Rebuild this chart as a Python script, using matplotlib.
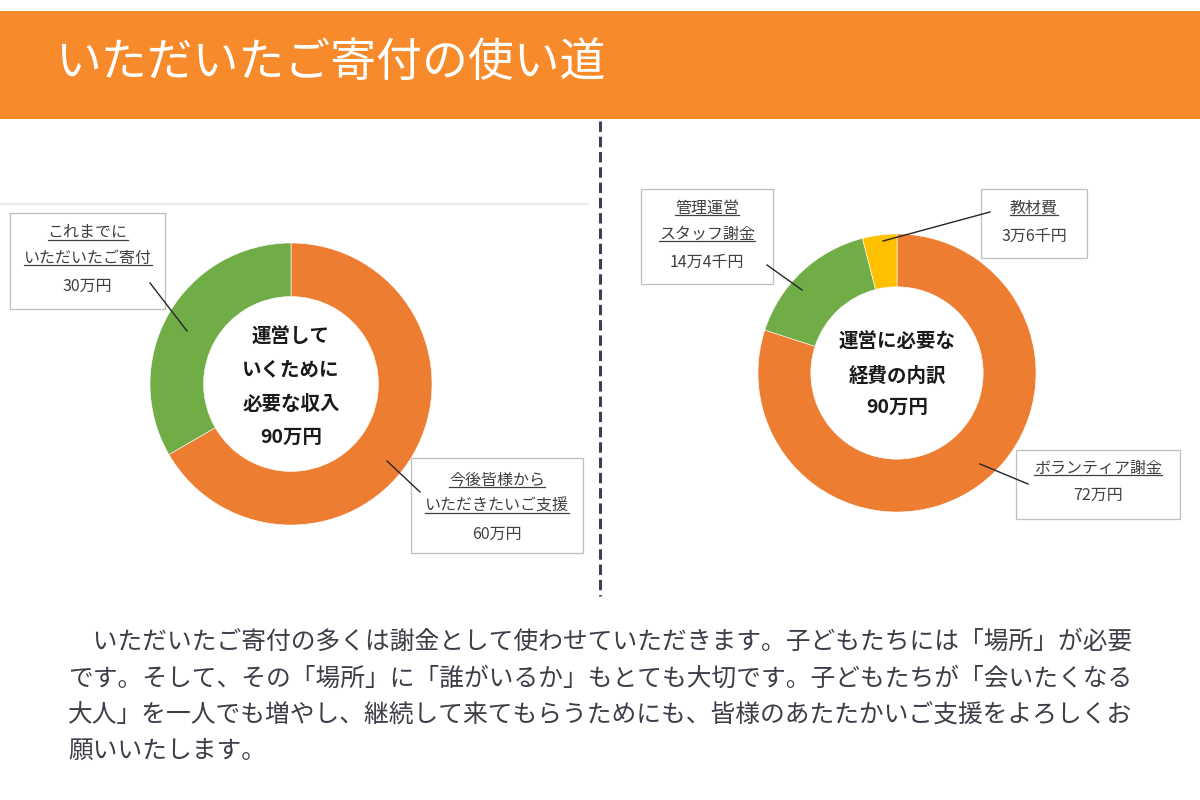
import matplotlib
matplotlib.use("Agg")
import matplotlib.pyplot as plt
from matplotlib.patches import Rectangle
from matplotlib.lines import Line2D
from matplotlib.transforms import IdentityTransform

plt.rcParams['font.family'] = ['Noto Sans CJK JP', 'DejaVu Sans']

# ---------------- data ----------------
title = "いただいたご寄付の使い道"

income_values = [60, 30]
income_labels = [["今後皆様から", "いただきたいご支援"], ["これまでに", "いただいたご寄付"]]
income_colors = ["#ED7D31", "#70AD47"]
income_center = ["運営して", "いくために", "必要な収入"]

expense_values = [72, 14.4, 3.6]
expense_labels = [["ボランティア謝金"], ["管理運営", "スタッフ謝金"], ["教材費"]]
expense_colors = ["#ED7D31", "#70AD47", "#FFC000"]
expense_center = ["運営に必要な", "経費の内訳"]

paragraph = [
    "\u3000いただいたご寄付の多くは謝金として使わせていただきます。子どもたちには「場所」が必要",
    "です。そして、その「場所」に「誰がいるか」もとても大切です。子どもたちが「会いたくなる",
    "大人」を一人でも増やし、継続して来てもらうためにも、皆様のあたたかいご支援をよろしくお",
    "願いいたします。",
]


def yen(v):
    man = int(v)
    sen = int(round((v - man) * 10))
    return f"{man}万{sen}千円" if sen else f"{man}万円"


W, H = 1200, 800
fig = plt.figure(figsize=(12, 8), dpi=100)
fig.patch.set_facecolor("white")

# overlay axes in pixel coordinates (y downward)
ov = fig.add_axes([0, 0, 1, 1], zorder=5)
ov.set_xlim(0, W)
ov.set_ylim(H, 0)
ov.axis("off")
ov.patch.set_alpha(0)

# header
ov.add_patch(Rectangle((0, 11), W, 108, facecolor="#F78A2B", edgecolor="none"))
ov.text(55, 63, title, fontsize=33, color="white", va="center", ha="left")

# dashed separator
ov.plot([600, 600], [121, 596], color="#3B4150", lw=2.2, linestyle=(0, (3.4, 1.6)))
# faint frame line of left chart
ov.plot([0, 588], [204, 204], color="#E6E6E6", lw=1.2)


def donut(cx, cy, r, values, colors):
    ax = fig.add_axes([(cx - r) / W, 1 - (cy + r) / H, 2 * r / W, 2 * r / H], zorder=2)
    ax.pie(values, colors=colors, startangle=90, counterclock=False, radius=1,
           wedgeprops=dict(width=0.38, edgecolor="white", linewidth=0.4))
    ax.set_xlim(-1, 1)
    ax.set_ylim(-1, 1)
    ax.set_aspect("equal")
    ax.axis("off")
    return ax


donut(291, 384, 141, income_values, income_colors)
donut(897, 373, 139, expense_values, expense_colors)

underlined = []


def label_box(x0, y0, x1, y1, lines, value, ys):
    ov.add_patch(Rectangle((x0, y0), x1 - x0, y1 - y0, facecolor="white",
                           edgecolor="#BFBFBF", lw=0.9))
    xc = (x0 + x1) / 2
    for ln, y in zip(lines, ys[:-1]):
        t = ov.text(xc, y, ln, fontsize=11.5, color="#404040", ha="center", va="center")
        underlined.append(t)
    ov.text(xc, ys[-1], value, fontsize=11.5, color="#404040", ha="center", va="center")


def leader(p, q):
    ov.plot([p[0], q[0]], [p[1], q[1]], color="#262626", lw=1.0)


# left chart labels
label_box(10, 213, 165, 309, income_labels[1], yen(income_values[1]), [233, 258, 286])
label_box(411, 458, 583, 553, income_labels[0], yen(income_values[0]), [480, 506, 534])
leader((150, 283), (187, 331))
leader((387, 461), (420, 492))

# right chart labels
label_box(641, 189, 773, 284, expense_labels[1], yen(expense_values[1]), [208, 234, 262])
label_box(981, 189, 1087, 258, expense_labels[2], yen(expense_values[2]), [208, 236])
label_box(1016, 450, 1180, 519, expense_labels[0], yen(expense_values[0]), [468, 495])
leader((767, 265), (802, 290))
leader((990, 212), (883, 241))
leader((980, 464), (1028, 484))

# center texts
for txt, y in zip(income_center + [yen(sum(income_values))], [337, 370, 405, 437]):
    ov.text(291, y, txt, fontsize=14, fontweight="bold", color="#1A1A1A", ha="center", va="center")
for txt, y in zip(expense_center + [yen(sum(expense_values))], [342, 376, 407]):
    ov.text(897, y, txt, fontsize=14, fontweight="bold", color="#1A1A1A", ha="center", va="center")

# paragraph
for txt, y in zip(paragraph, [642, 679, 716, 752]):
    ov.text(68, y, txt, fontsize=17.8, color="#3D3D4A", ha="left", va="center")

# underlines
fig.canvas.draw()
renderer = fig.canvas.get_renderer()
for t in underlined:
    bb = t.get_window_extent(renderer)
    yl = bb.y0 + 1.5
    fig.add_artist(Line2D([bb.x0, bb.x1], [yl, yl], transform=IdentityTransform(),
                          color="#404040", lw=0.9, zorder=10))

fig.savefig("out.png", dpi=100, facecolor="white")
